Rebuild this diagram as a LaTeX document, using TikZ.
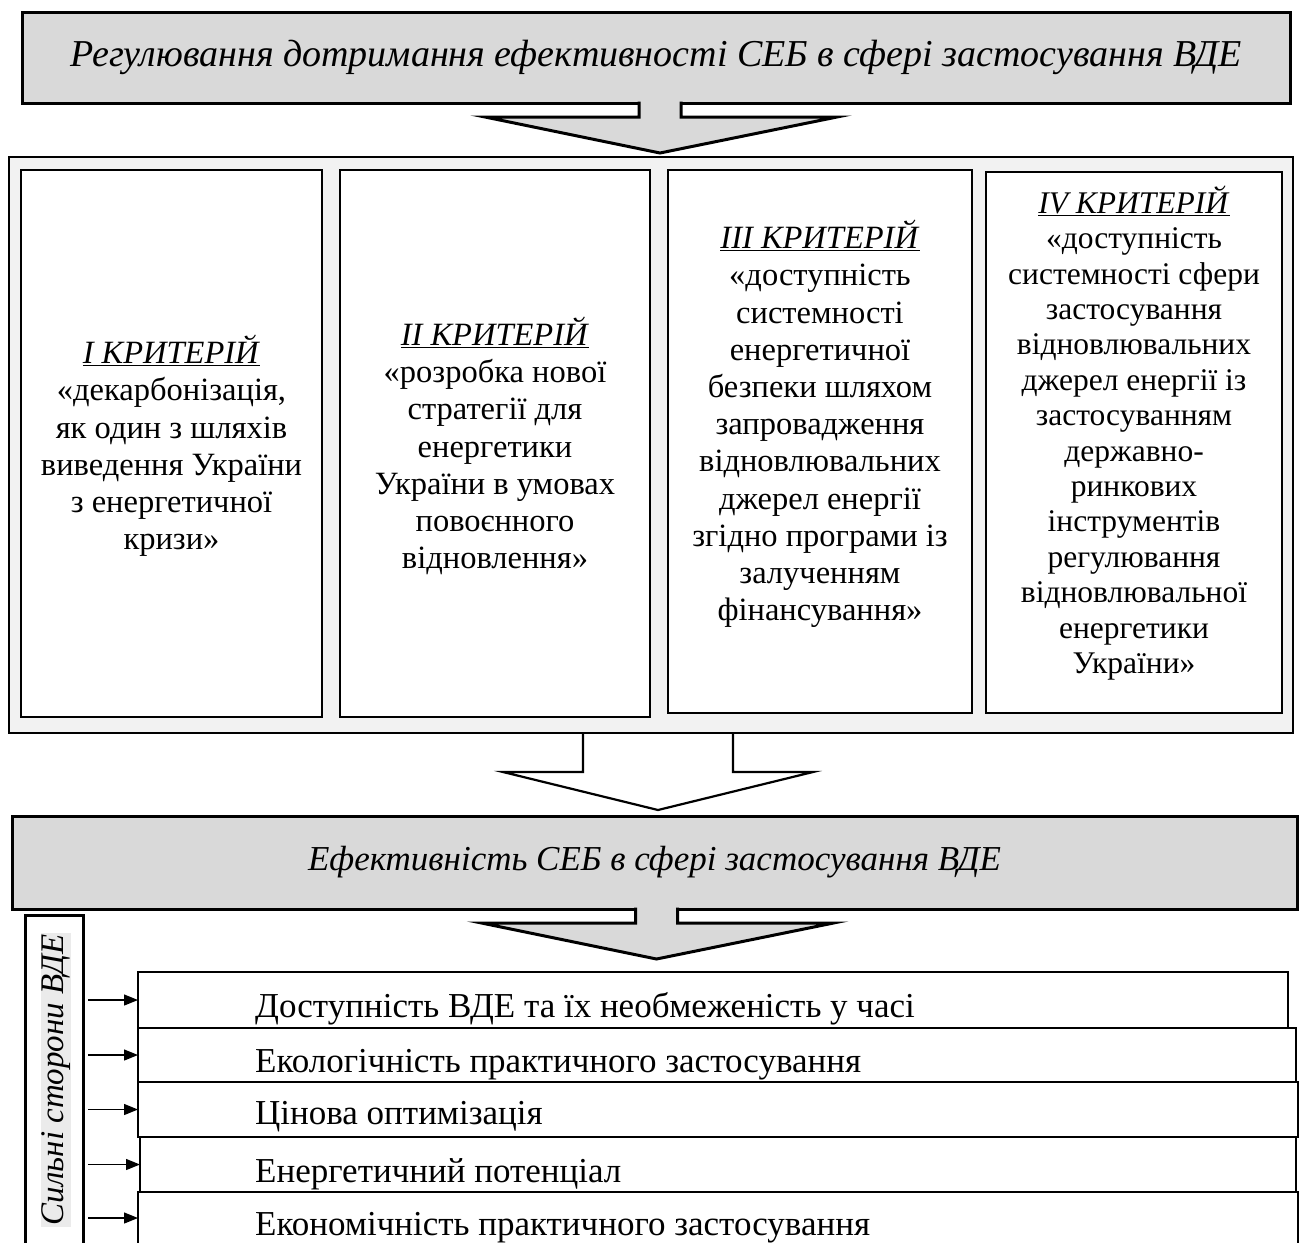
\documentclass[tikz,border=0pt]{standalone}
\usepackage{fontspec}
\setmainfont{Liberation Serif}
\usetikzlibrary{arrows.meta,calc}
\definecolor{bannergray}{HTML}{D9D9D9}
\definecolor{panelgray}{HTML}{F2F2F2}
\definecolor{labelgray}{HTML}{EBEBEB}

\tikzset{
  banner/.style={draw=black, line width=3pt, fill=bannergray, rectangle,
    inner sep=0pt, outer sep=0pt, anchor=north west},
  panel/.style={draw=black, line width=2.5pt, fill=panelgray, rectangle,
    inner sep=0pt, outer sep=0pt, anchor=north west},
  critbox/.style={draw=black, line width=1.2pt, fill=white, rectangle,
    inner sep=0pt, outer sep=0pt, anchor=north west},
  crittext/.style={align=center, inner sep=0pt, font=\fontsize{32.5}{37.2}\selectfont},
  listbox/.style={draw=black, line width=1.2pt, fill=white, rectangle,
    inner sep=0pt, outer sep=0pt, anchor=north west},
  listtext/.style={anchor=base west, inner sep=0pt, font=\fontsize{35}{40}\selectfont},
  sidebox/.style={draw=black, line width=3pt, fill=white, rectangle,
    inner sep=0pt, outer sep=0pt, anchor=north west},
  feed/.style={line width=1.3pt, -{Triangle[length=14pt,width=11pt]}},
  pics/downcallout/.style={code={
    \fill[bannergray] (-21,-2) -- (-21,14) -- (-175,14) -- (0,50)
      -- (177,14) -- (21,14) -- (21,-2) -- cycle;
    \draw[line width=3pt, line join=miter, miter limit=12]
      (-21,-1.5) -- (-21,14) -- (-175,14) -- (0,50) -- (177,14) -- (21,14) -- (21,-1.5);
  }},
}

\begin{document}
\begin{tikzpicture}[x=1pt,y=-1pt]
\clip (0,0) rectangle (1300,1242);
\fill[white] (0,0) rectangle (1300,1242);

% ---- top banner with its down arrow ----
\node[banner, minimum width=1268pt, minimum height=91pt,
  font=\fontsize{38}{46}\selectfont\itshape] (reg) at (22,12)
  {Регулювання дотримання ефективності СЕБ в сфері застосування ВДЕ};
\pic at ($(reg.south)+(4,0)$) {downcallout};

% ---- criteria panel ----
\node[panel, minimum width=1284pt, minimum height=576pt] (panel) at (9,157) {};
\node[critbox, minimum width=301pt, minimum height=547pt] (c1) at (21,170) {};
\node[critbox, minimum width=310pt, minimum height=547pt] (c2) at (340,170) {};
\node[critbox, minimum width=304pt, minimum height=543pt] (c3) at (668,170) {};
\node[critbox, minimum width=296pt, minimum height=541pt] (c4) at (986,172) {};

\node[crittext] (t1) at (171.5,446) {\underline{\textit{I КРИТЕРІЙ}}\\
  «декарбонізація,\\ як один з шляхів\\ виведення України\\ з енергетичної\\ кризи»};
\node[crittext] (t2) at (495,446) {\underline{\textit{II КРИТЕРІЙ}}\\
  «розробка нової\\ стратегії для\\ енергетики\\ України в умовах\\ повоєнного\\ відновлення»};
\node[crittext] (t3) at (820,424) {\underline{\textit{III КРИТЕРІЙ}}\\
  «доступність\\ системності\\ енергетичної\\ безпеки шляхом\\ запровадження\\
  відновлювальних\\ джерел енергії\\ згідно програми із\\ залученням\\ фінансування»};
\node[crittext, font=\fontsize{31.5}{35.4}\selectfont] (t4) at (1134,433)
  {\underline{\textit{IV КРИТЕРІЙ}}\\
  «доступність\\ системності сфери\\ застосування\\ відновлювальних\\ джерел енергії із\\
  застосуванням\\ державно-\\ ринкових\\ інструментів\\ регулювання\\
  відновлювальної\\ енергетики\\ України»};

% ---- open arrow from the panel to the result banner ----
\begin{scope}[shift={($(panel.south)+(7,0)$)}]
  \draw[line width=2.2pt, line join=miter, miter limit=12]
    (-75,0) -- (-75,39) -- (-155,39) -- (0,77) -- (155,39) -- (75,39) -- (75,0);
\end{scope}

% ---- result banner with its down arrow ----
\node[banner, minimum width=1285pt, minimum height=93pt,
  font=\fontsize{35}{42}\selectfont\itshape] (eff) at (12,816)
  {Ефективність СЕБ в сфері застосування ВДЕ};
\pic at ($(eff.south)+(2,0)$) {downcallout};

% ---- strengths column ----
\node[sidebox, minimum width=58pt, minimum height=340pt] (side) at (25,915) {};
\node[fill=labelgray, inner xsep=2pt, inner ysep=1pt, rotate=90,
  font=\fontsize{33}{38}\selectfont\itshape] (sidelabel) at (56,1080)
  {Сильні сторони ВДЕ};

\node[listbox, minimum width=1150pt, minimum height=56pt] (l1) at (138,972) {};
\node[listtext] (s1) at (255,1017) {Доступність ВДЕ та їх необмеженість у часі};
\node[listbox, minimum width=1158pt, minimum height=54pt] (l2) at (138,1028) {};
\node[listtext] (s2) at (255,1072) {Екологічність практичного застосування};
\node[listbox, minimum width=1160pt, minimum height=55pt] (l3) at (138,1082) {};
\node[listtext] (s3) at (255,1124) {Цінова оптимізація};
\node[listbox, minimum width=1156pt, minimum height=55pt] (l4) at (140,1137) {};
\node[listtext] (s4) at (255,1182) {Енергетичний потенціал};
\node[listbox, minimum width=1160pt, minimum height=52pt] (l5) at (138,1192) {};
\node[listtext] (s5) at (255,1235) {Економічність практичного застосування};

\foreach \k in {1,...,5}{
  \draw[feed] ([xshift=5pt]side.east |- l\k.west) -- (l\k.west);
}
\end{tikzpicture}
\end{document}
